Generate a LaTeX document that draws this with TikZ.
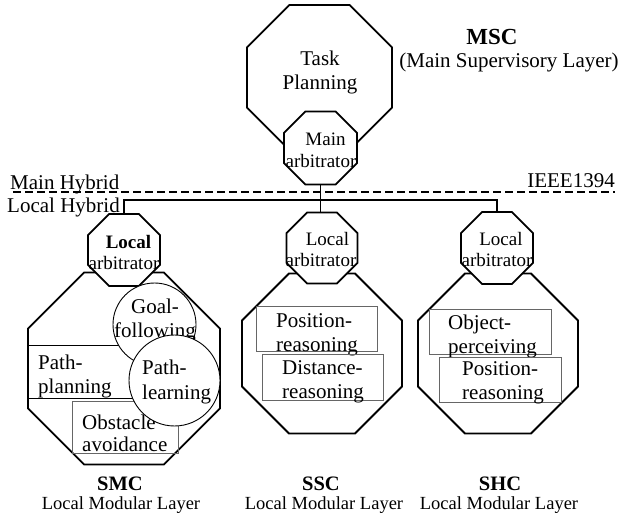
\documentclass[tikz,border=0pt]{standalone}
\usepackage{fontspec}
\setmainfont{Liberation Serif}
\usetikzlibrary{shapes.geometric}
\begin{document}
\begin{tikzpicture}[x=1pt,y=-1pt,
  oct/.style={draw, line width=1.8pt, fill=white, regular polygon,
    regular polygon sides=8, inner sep=0pt, outer sep=0pt, minimum size=#1},
  conn/.style={line width=1.8pt},
  hyb/.style={line width=1.3pt, dash pattern=on 8pt off 4pt},
  inbox/.style={draw=black!60, line width=0.9pt, inner sep=0pt, outer sep=0pt},
  bubble/.style={circle, draw, line width=0.9pt, fill=white, inner sep=0pt, outer sep=0pt, minimum size=#1},
  txt/.style={font=\fontsize{21}{24}\selectfont, inner sep=0pt},
  arbtxt/.style={font=\fontsize{19}{21}\selectfont, inner sep=0pt, align=center},
  subtxt/.style={font=\fontsize{18.5}{21}\selectfont, inner sep=0pt, anchor=base},
  headtxt/.style={font=\fontsize{20.5}{23}\selectfont\bfseries, inner sep=0pt, anchor=base}]
\useasboundingbox (0,0) rectangle (622,513);

% main supervisory layer
\node[oct=157pt] (tp) at (319.5,77.5) {};
\node[oct=79pt] (ma) at (320.5,148) {};
\node[txt, align=center] (tpt) at (320,72) {Task\\Planning};
\node[arbtxt, font=\fontsize{19}{22}\selectfont] (mat) at (321,150) {\hspace*{9pt}Main\\arbitrator};
\node[font=\fontsize{23}{26}\selectfont\bfseries, inner sep=0pt, anchor=base] (msc) at (492,45) {MSC};
\node[txt, anchor=base] (msct) at (509,68) {(Main Supervisory Layer)};

% hybrid boundary
\coordinate (dashL) at (13,192);
\coordinate (dashR) at (615,192);
\draw[hyb] (dashL) -- (dashR);
\node[txt, anchor=base west] (mh) at (10,190) {Main Hybrid};
\node[txt, anchor=base west] (lh) at (7,213) {Local Hybrid};
\node[txt, anchor=base east] (ieee) at (615,188) {IEEE1394};

% local modular layers
\node[oct=208pt] (smc) at (124,368.5) {};
\node[oct=173pt] (ssc) at (322,353.5) {};
\node[oct=173pt] (shc) at (498,353.5) {};
\node[oct=78pt] (la1) at (124,250) {};
\node[oct=77pt] (la2) at (322,248) {};
\node[oct=78pt] (la3) at (497,248) {};
\node[arbtxt] (la1t) at (124,253) {\hspace*{9pt}\textbf{Local}\\arbitrator};
\node[arbtxt] (la2t) at (321,250) {\hspace*{13pt}Local\\arbitrator};
\node[arbtxt] (la3t) at (497,250) {\hspace*{8pt}Local\\arbitrator};

% bus
\coordinate (bus) at (0,200);
\draw[conn] (la1.north) -- (la1.north |- bus) -- (la3.north |- bus) -- (la3.north);
\draw[conn] (ma.south) -- (ma.south |- la2.north);

% SMC modules
\node[draw, line width=0.9pt, inner sep=0pt, minimum width=162pt, minimum height=53pt] (ppbox) at (109,371.5) {};
\node[txt, anchor=west, align=left] (ppt) at (38,376.5) {Path-\\planning};
\node[bubble=83pt] (goal) at (154.5,324.5) {};
\node[txt, align=center] (goalt) at (155,320.5) {Goal-\\following};
\node[inbox, minimum width=106pt, minimum height=52pt] (obbox) at (125,427) {};
\node[txt, anchor=west, align=left, font=\fontsize{21}{22}\selectfont] (obt) at (82,433) {Obstacle\\avoidance};
\node[bubble=91pt] (learn) at (174.5,380.5) {};
\node[txt, anchor=west, align=left, font=\fontsize{21}{25}\selectfont] (learnt) at (142,382) {Path-\\learning};

% SSC modules
\node[inbox, minimum width=121pt, minimum height=45pt] (prbox) at (316.5,328.5) {};
\node[txt, anchor=west, align=left] (prt) at (276,334.5) {Position-\\reasoning};
\node[inbox, minimum width=121pt, minimum height=46pt] (drbox) at (322.5,377) {};
\node[txt, anchor=west, align=left] (drt) at (282,382) {Distance-\\reasoning};

% SHC modules
\node[inbox, minimum width=122pt, minimum height=45pt] (opbox) at (490,331.5) {};
\node[txt, anchor=west, align=left] (opt) at (448,336.5) {Object-\\perceiving};
\node[inbox, minimum width=122pt, minimum height=45pt] (pr2box) at (500,379.5) {};
\node[txt, anchor=west, align=left] (pr2t) at (462,382.5) {Position-\\reasoning};

% layer captions
\node[headtxt] (smch) at (120,490) {SMC};
\node[subtxt] (smcs) at (121,509) {Local Modular Layer};
\node[headtxt] (ssch) at (321,490) {SSC};
\node[subtxt] (sscs) at (324,509) {Local Modular Layer};
\node[headtxt] (shch) at (500,490) {SHC};
\node[subtxt] (shcs) at (499,509) {Local Modular Layer};
\end{tikzpicture}
\end{document}
